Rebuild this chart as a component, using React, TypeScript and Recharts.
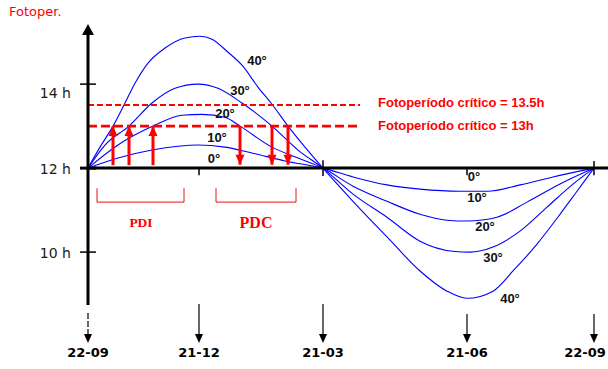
import React from 'react';
import { ComposedChart, Line, XAxis, YAxis, ReferenceLine, ReferenceDot, Scatter } from 'recharts';

type P = { t: number; h: number };

// x unit: position along the year axis (22-09 ... 22-09)
const dateTicks = [0, 111, 235, 379, 506];
const dateLabels = ['22-09', '21-12', '21-03', '21-06', '22-09'];
const hourTicks = [10, 12, 14];
const hourLabels = ['10 h', '12 h', '14 h'];

const lat10: P[] = [
  { t: 0, h: 12 }, { t: 30, h: 12.24 }, { t: 64, h: 12.43 }, { t: 90, h: 12.52 }, { t: 110, h: 12.55 },
  { t: 137, h: 12.5 }, { t: 164, h: 12.36 }, { t: 197, h: 12.17 }, { t: 235, h: 12 },
  { t: 265, h: 11.79 }, { t: 299, h: 11.6 }, { t: 332, h: 11.5 }, { t: 372, h: 11.45 }, { t: 399, h: 11.45 },
  { t: 432, h: 11.6 }, { t: 465, h: 11.79 }, { t: 506, h: 12 },
];
const lat20: P[] = [
  { t: 0, h: 12 }, { t: 30, h: 12.55 }, { t: 65, h: 13.0 }, { t: 94, h: 13.26 }, { t: 114, h: 13.28 },
  { t: 137, h: 13.21 }, { t: 152, h: 13.0 }, { t: 184, h: 12.5 }, { t: 210, h: 12.24 }, { t: 235, h: 12 },
  { t: 265, h: 11.57 }, { t: 299, h: 11.21 }, { t: 332, h: 10.9 }, { t: 359, h: 10.76 }, { t: 379, h: 10.74 },
  { t: 409, h: 10.83 }, { t: 439, h: 11.19 }, { t: 472, h: 11.62 }, { t: 506, h: 12 },
];
const lat30: P[] = [
  { t: 0, h: 12 }, { t: 17, h: 12.55 }, { t: 41, h: 13.0 }, { t: 64, h: 13.55 }, { t: 87, h: 13.9 },
  { t: 110, h: 14.0 }, { t: 130, h: 13.9 }, { t: 154, h: 13.55 }, { t: 184, h: 13.0 }, { t: 210, h: 12.43 },
  { t: 235, h: 12 },
  { t: 265, h: 11.38 }, { t: 299, h: 10.83 }, { t: 332, h: 10.26 }, { t: 365, h: 10.02 }, { t: 382, h: 10.0 },
  { t: 405, h: 10.12 }, { t: 432, h: 10.5 }, { t: 459, h: 11.07 }, { t: 485, h: 11.62 }, { t: 506, h: 12 },
];
const lat40: P[] = [
  { t: 0, h: 12 }, { t: 12, h: 12.5 }, { t: 25, h: 13.0 }, { t: 37, h: 13.55 }, { t: 47, h: 14.02 },
  { t: 60, h: 14.5 }, { t: 77, h: 14.86 }, { t: 97, h: 15.1 }, { t: 112, h: 15.14 }, { t: 124, h: 15.07 },
  { t: 140, h: 14.76 }, { t: 154, h: 14.45 }, { t: 170, h: 13.93 }, { t: 184, h: 13.52 }, { t: 200, h: 13.0 },
  { t: 217, h: 12.5 }, { t: 235, h: 12 },
  { t: 265, h: 11.21 }, { t: 299, h: 10.36 }, { t: 332, h: 9.55 }, { t: 359, h: 9.07 }, { t: 379, h: 8.9 },
  { t: 405, h: 9.07 }, { t: 425, h: 9.55 }, { t: 449, h: 10.19 }, { t: 472, h: 10.9 }, { t: 489, h: 11.45 },
  { t: 506, h: 12 },
];

const curveLabels = [
  { t: 169, h: 14.56, text: '40°' }, { t: 152, h: 13.86, text: '30°' }, { t: 137, h: 13.31, text: '20°' },
  { t: 129, h: 12.74, text: '10°' }, { t: 126, h: 12.24, text: '0°' },
  { t: 386, h: 11.81, text: '0°' }, { t: 389, h: 11.31, text: '10°' }, { t: 397, h: 10.6, text: '20°' },
  { t: 405, h: 9.86, text: '30°' }, { t: 422, h: 8.9, text: '40°' },
];

const criticalHours = [13.5, 13];
const criticalEnd = 272;
const criticalLabels = [
  { t: 290, h: 13.56, text: 'Fotoperíodo crítico = 13.5h' },
  { t: 290, h: 13.02, text: 'Fotoperíodo crítico = 13h' },
];

const upArrowT = [25, 41, 65];
const downArrowT = [152, 184, 200];

const pdiBracket: P[] = [{ t: 9, h: 11.52 }, { t: 9, h: 11.19 }, { t: 96, h: 11.19 }, { t: 96, h: 11.52 }];
const pdcBracket: P[] = [{ t: 128, h: 11.52 }, { t: 128, h: 11.19 }, { t: 208, h: 11.19 }, { t: 208, h: 11.52 }];
const bracketLabels = [
  { t: 53, h: 10.7, text: 'PDI', size: 13.5 },
  { t: 168, h: 10.7, text: 'PDC', size: 16 },
];

const Y_MIN = 8.74;
const Y_MAX = 15.17;

const arrowHead = (dir: 'up' | 'down') => (props: any) => {
  const { cx, cy, index } = props;
  if (index !== 1 || cx == null || cy == null) return <g key={`a${index}`} />;
  const w = 4.5;
  const l = 10;
  const pts =
    dir === 'up'
      ? `${cx},${cy} ${cx - w},${cy + l} ${cx + w},${cy + l}`
      : `${cx},${cy} ${cx - w},${cy - l} ${cx + w},${cy - l}`;
  return <polygon key={`a${index}`} points={pts} fill="#ff0000" />;
};

const HourTick = (props: any) => {
  const { x, y, payload } = props;
  const i = hourTicks.indexOf(payload.value);
  const dy = payload.value === 14 ? 8.5 : 0.5;
  return (
    <g>
      <line x1={x - 8} y1={y} x2={x + 8} y2={y} stroke="#000" strokeWidth={payload.value === 12 ? 3 : 1.5} />
      <text x={x - 17} y={y + dy} textAnchor="end" dominantBaseline="central" fontFamily="DejaVu Sans" fontSize={14} fill="#1a1a1a">
        {hourLabels[i]}
      </text>
    </g>
  );
};

const DateTick = (props: any) => {
  const { x, y, payload } = props;
  const i = dateTicks.indexOf(payload.value);
  const start = i === 0 ? y + 8 : i >= 3 ? y + 9 : y - 1;
  const tx = i === dateTicks.length - 1 ? x - 9 : x;
  return (
    <g>
      <line x1={x} y1={start} x2={x} y2={y + 31} stroke="#000" strokeWidth={1.2} strokeDasharray={i === 0 ? '6 2' : undefined} />
      <polygon points={`${x},${y + 38} ${x - 4},${y + 29} ${x + 4},${y + 29}`} fill="#000" />
      <text x={tx} y={y + 47} textAnchor="middle" dominantBaseline="central" fontFamily="DejaVu Sans" fontWeight="bold" fontSize={13} fill="#000">
        {dateLabels[i]}
      </text>
    </g>
  );
};

const DegLabel = (props: any) => (
  <text x={props.cx} y={props.cy} textAnchor="middle" dominantBaseline="central" fontFamily="Liberation Sans" fontWeight="bold" fontSize={13} fill="#111">
    {props.payload.text}
  </text>
);

const CritLabel = (props: any) => (
  <text x={props.cx} y={props.cy} textAnchor="start" dominantBaseline="central" fontFamily="Liberation Sans" fontWeight="bold" fontSize={13} fill="#ff0000">
    {props.payload.text}
  </text>
);

const BracketLabel = (props: any) => (
  <text x={props.cx} y={props.cy} textAnchor="middle" dominantBaseline="central" fontFamily="Liberation Serif" fontWeight="bold" fontSize={props.payload.size} fill="#ff0000">
    {props.payload.text}
  </text>
);

const AxisArrow = (props: any) => {
  const { cx, cy } = props;
  if (cx == null || cy == null) return <g />;
  return <polygon points={`${cx},${cy - 11} ${cx - 6},${cy} ${cx + 6},${cy}`} fill="#000" />;
};

const axisTickMarks = [
  { t: 111, top: 12, bottom: 11.83 },
  { t: 235, top: 12.19, bottom: 11.81 },
  { t: 379, top: 12, bottom: 11.83 },
  { t: 506, top: 12.17, bottom: 11.83 },
];

export default function App() {
  const curves = [lat10, lat20, lat30, lat40];
  return (
    <div style={{ position: 'absolute', left: 0, top: 0, width: 608, height: 369, background: '#fff' }}>
      <div
        style={{
          position: 'absolute', left: 9, top: 4, fontFamily: 'DejaVu Sans', fontSize: 13, color: '#ff0000', lineHeight: '16px',
        }}
      >
        Fotoper.
      </div>
      <ComposedChart width={608} height={369} margin={{ top: 35, right: 0, left: 0, bottom: 4 }}>
        <XAxis
          dataKey="t"
          type="number"
          domain={[0, 520]}
          ticks={dateTicks}
          interval={0}
          axisLine={false}
          tickLine={false}
          tickSize={0}
          tickMargin={0}
          height={60}
          tick={<DateTick />}
        />
        <YAxis
          dataKey="h"
          type="number"
          domain={[Y_MIN, Y_MAX]}
          allowDataOverflow
          ticks={hourTicks}
          interval={0}
          width={88}
          axisLine={{ stroke: '#000', strokeWidth: 3 }}
          tickLine={false}
          tickSize={0}
          tickMargin={0}
          tick={<HourTick />}
        />
        {curves.map((d, i) => (
          <Line key={`c${i}`} data={d} dataKey="h" type="monotone" stroke="#0000ff" strokeWidth={1.1} dot={false} activeDot={false} isAnimationActive={false} />
        ))}
        <ReferenceLine y={12} stroke="#000" strokeWidth={3} />
        {axisTickMarks.map((m, i) => (
          <ReferenceLine key={`m${i}`} segment={[{ x: m.t, y: m.top }, { x: m.t, y: m.bottom }]} stroke="#000" strokeWidth={1.5} />
        ))}
        <ReferenceLine segment={[{ x: 0, y: criticalHours[0] }, { x: criticalEnd, y: criticalHours[0] }]} stroke="#ff0000" strokeWidth={2} strokeDasharray="6 3" />
        <ReferenceLine segment={[{ x: 0, y: criticalHours[1] }, { x: criticalEnd, y: criticalHours[1] }]} stroke="#ff0000" strokeWidth={2.6} strokeDasharray="9 4" />
        {upArrowT.map((t, i) => (
          <Line key={`u${i}`} data={[{ t, h: 12.07 }, { t, h: 13 }]} dataKey="h" type="linear" stroke="#ff0000" strokeWidth={3} dot={arrowHead('up')} activeDot={false} isAnimationActive={false} />
        ))}
        {downArrowT.map((t, i) => (
          <Line key={`d${i}`} data={[{ t, h: 13 }, { t, h: 12.08 }]} dataKey="h" type="linear" stroke="#ff0000" strokeWidth={3} dot={arrowHead('down')} activeDot={false} isAnimationActive={false} />
        ))}
        <Line data={pdiBracket} dataKey="h" type="linear" stroke="#ee1111" strokeWidth={1} dot={false} activeDot={false} isAnimationActive={false} />
        <Line data={pdcBracket} dataKey="h" type="linear" stroke="#ee1111" strokeWidth={1} dot={false} activeDot={false} isAnimationActive={false} />
        <Scatter data={curveLabels} shape={<DegLabel />} isAnimationActive={false} />
        <Scatter data={criticalLabels} shape={<CritLabel />} isAnimationActive={false} />
        <Scatter data={bracketLabels} shape={<BracketLabel />} isAnimationActive={false} />
        <ReferenceDot x={0} y={Y_MAX} r={1} ifOverflow="visible" shape={<AxisArrow />} />
      </ComposedChart>
    </div>
  );
}
